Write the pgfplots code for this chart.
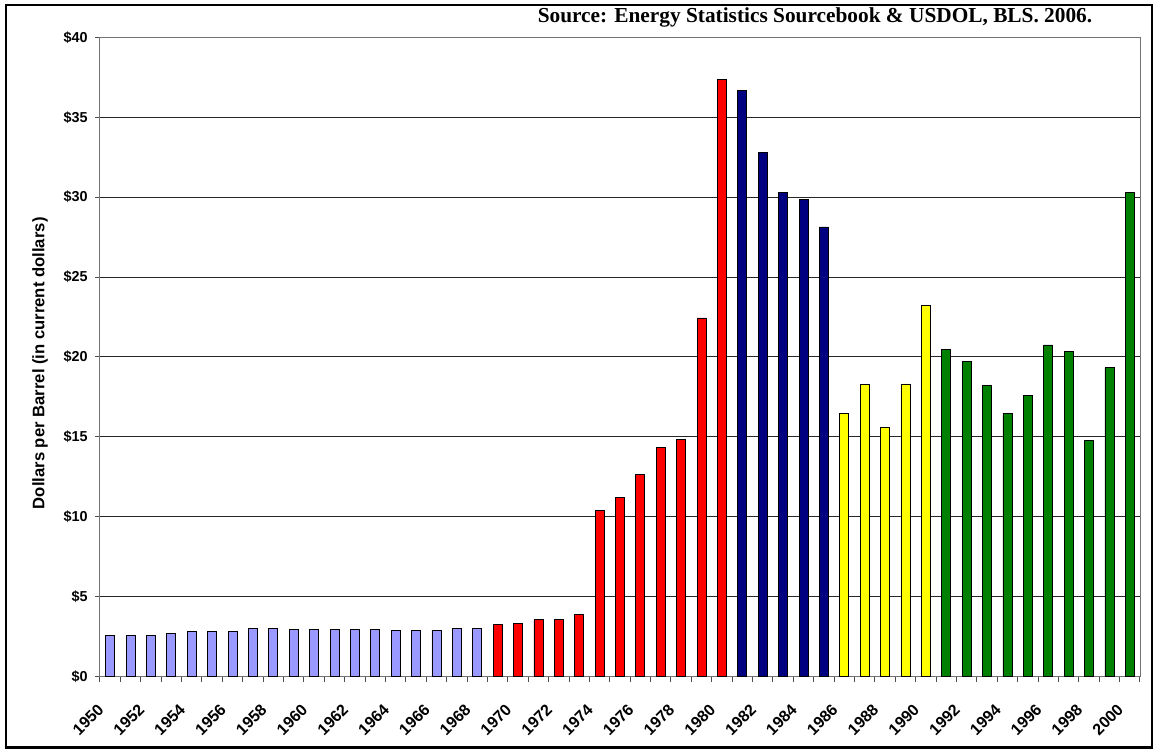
\documentclass[border=0pt]{standalone}
\usepackage{fontspec}
\setmainfont{Liberation Sans}
\newfontfamily\srcfont{Liberation Serif}
\usepackage{pgfplots}
\pgfplotsset{compat=1.18}

\definecolor{lav}{HTML}{9999FF}
\definecolor{xred}{HTML}{FF0000}
\definecolor{xnavy}{HTML}{000080}
\definecolor{xyel}{HTML}{FFFF00}
\definecolor{xgreen}{HTML}{008000}

\begin{document}
\begin{tikzpicture}
% page = 1154 x 749 px, 1px = 0.75pt
\useasboundingbox (0,0) rectangle (865.5pt,-561.75pt);
\draw[line width=2.2pt] (4.5pt,-3.75pt) rectangle (864pt,-560.5pt);

\node[anchor=base, font=\srcfont\bfseries\fontsize{16}{18}\selectfont] at (611.25pt,-16.9pt)
  {Source: Energy Statistics Sourcebook \& USDOL, BLS. 2006.};

\begin{axis}[
    at={(75pt,-507.375pt)}, anchor=south west,
    scale only axis,
    width=780pt, height=479.4pt,
    xmin=1949.5, xmax=2000.5,
    ymin=0, ymax=40,
    ybar, bar width=6.75pt,
    axis line style={black!55, line width=0.75pt},
    ymajorgrids, grid style={black!85, line width=0.75pt},
    tick align=outside,
    xtick pos=lower, ytick pos=left,
    major tick length=3.75pt, minor tick length=3.75pt,
    tick style={black!70, line width=0.75pt},
    xtick={1950,1952,...,2000},
    major x tick style={draw=none},
    minor xtick={1949.5,1950.5,...,2000.5},
    xticklabels={1950,1952,1954,1956,1958,1960,1962,1964,1966,1968,1970,1972,1974,1976,1978,1980,1982,1984,1986,1988,1990,1992,1994,1996,1998,2000},
    x tick label style={xshift=-7pt, yshift=-19pt, rotate=45, anchor=east, inner sep=0pt,
        font=\fontsize{12}{14}\selectfont\bfseries},
    ytick={0,5,...,40},
    yticklabels={\$0,\$5,\$10,\$15,\$20,\$25,\$30,\$35,\$40},
    y tick label style={font=\fontsize{10.8}{12}\selectfont\bfseries, xshift=-2pt},
    ylabel={Dollars per Barrel (in current dollars)},
    every axis y label/.style={at={(axis description cs:0,0.49)}, xshift=-45pt, rotate=90, anchor=center,
        font=\fontsize{12.5}{14}\selectfont\bfseries},
    clip=false,
]
\addplot[bar shift=0pt, fill=lav, draw=black, line width=0.6pt] coordinates {
    (1950,2.55) (1951,2.55) (1952,2.55) (1953,2.68) (1954,2.80) (1955,2.80) (1956,2.80)
    (1957,3.03) (1958,3.03) (1959,2.97) (1960,2.97) (1961,2.97) (1962,2.97) (1963,2.97)
    (1964,2.90) (1965,2.90) (1966,2.90) (1967,3.03) (1968,3.03)
};
\addplot[bar shift=0pt, fill=xred, draw=black, line width=0.6pt] coordinates {
    (1969,3.26) (1970,3.32) (1971,3.55) (1972,3.55) (1973,3.86) (1974,10.38)
    (1975,11.21) (1976,12.65) (1977,14.31) (1978,14.83) (1979,22.44) (1980,37.38)
};
\addplot[bar shift=0pt, fill=xnavy, draw=black, line width=0.6pt] coordinates {
    (1981,36.65) (1982,32.79) (1983,30.29) (1984,29.85) (1985,28.13)
};
\addplot[bar shift=0pt, fill=xyel, draw=black, line width=0.6pt] coordinates {
    (1986,16.46) (1987,18.25) (1988,15.56) (1989,18.31) (1990,23.21)
};
\addplot[bar shift=0pt, fill=xgreen, draw=black, line width=0.6pt] coordinates {
    (1991,20.48) (1992,19.69) (1993,18.21) (1994,16.48) (1995,17.56)
    (1996,20.75) (1997,20.35) (1998,14.79) (1999,19.33) (2000,30.31)
};
\end{axis}
\end{tikzpicture}
\end{document}
